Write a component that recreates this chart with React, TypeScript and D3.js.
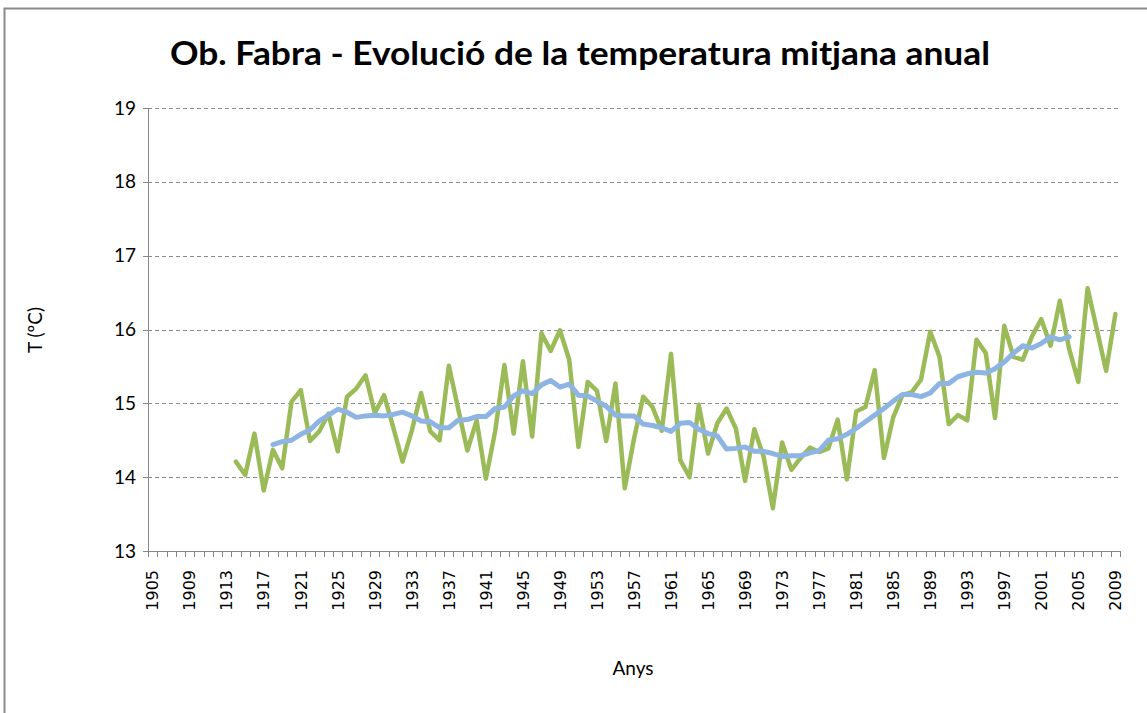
import { useMemo } from 'react';
import * as d3 from 'd3';

// categories: every year on the axis, 1905..2009
const YEARS: number[] = d3.range(1905, 2010);
const LABEL_YEARS: number[] = YEARS.filter((y) => (y - 1905) % 4 === 0);
const Y_TICKS = [13, 14, 15, 16, 17, 18, 19];

// annual mean temperature, 1914..2009
const ANNUAL_START = 1914;
const ANNUAL: number[] = [
  14.21, 14.03, 14.59, 13.82, 14.37, 14.12, 15.02, 15.18, 14.49, 14.62, // 1914-1923
  14.86, 14.35, 15.09, 15.2, 15.38, 14.87, 15.11, 14.67, 14.21, 14.63, // 1924-1933
  15.14, 14.62, 14.5, 15.51, 14.93, 14.36, 14.77, 13.98, 14.62, 15.52, // 1934-1943
  14.59, 15.57, 14.55, 15.95, 15.71, 15.99, 15.59, 14.41, 15.29, 15.17, // 1944-1953
  14.49, 15.27, 13.85, 14.52, 15.09, 14.95, 14.63, 15.67, 14.23, 14.0, // 1954-1963
  14.98, 14.32, 14.73, 14.93, 14.66, 13.95, 14.65, 14.28, 13.58, 14.47, // 1964-1973
  14.1, 14.26, 14.4, 14.34, 14.39, 14.78, 13.97, 14.89, 14.95, 15.45, // 1974-1983
  14.26, 14.81, 15.11, 15.15, 15.32, 15.97, 15.63, 14.72, 14.84, 14.77, // 1984-1993
  15.86, 15.68, 14.8, 16.05, 15.63, 15.59, 15.91, 16.14, 15.78, 16.39, // 1994-2003
  15.74, 15.29, 16.56, 16.0, 15.44, 16.21, // 2004-2009
];

// smoothed series, 1918..2004
const SMOOTH_START = 1918;
const SMOOTH: number[] = [
  14.44, 14.48, 14.5, 14.58, 14.64, 14.76, 14.84, 14.92, 14.88, 14.81, // 1918-1927
  14.83, 14.84, 14.83, 14.85, 14.88, 14.83, 14.76, 14.75, 14.67, 14.67, // 1928-1937
  14.77, 14.78, 14.82, 14.82, 14.93, 14.95, 15.1, 15.17, 15.13, 15.25, // 1938-1947
  15.31, 15.22, 15.26, 15.11, 15.1, 15.03, 14.96, 14.84, 14.83, 14.83, // 1948-1957
  14.72, 14.7, 14.67, 14.62, 14.73, 14.74, 14.65, 14.59, 14.56, 14.38, // 1958-1967
  14.39, 14.41, 14.35, 14.35, 14.32, 14.28, 14.29, 14.29, 14.33, 14.36, // 1968-1977
  14.5, 14.52, 14.58, 14.66, 14.75, 14.84, 14.93, 15.03, 15.12, 15.12, // 1978-1987
  15.09, 15.14, 15.27, 15.27, 15.36, 15.4, 15.42, 15.41, 15.47, 15.56, // 1988-1997
  15.68, 15.78, 15.75, 15.81, 15.9, 15.86, 15.9, // 1998-2004
];

const W = 1147;
const H = 713;
const plot = { left: 148, right: 1120, top: 108, bottom: 551 };

export default function App() {
  const x = useMemo(
    () => d3.scaleBand<number>().domain(YEARS).range([plot.left, plot.right]),
    []
  );
  const y = useMemo(
    () => d3.scaleLinear().domain([13, 19]).range([plot.bottom, plot.top]),
    []
  );
  const cx = (yr: number) => (x(yr) ?? 0) + x.bandwidth() / 2;

  const line = d3
    .line<[number, number]>()
    .x((d) => cx(d[0]))
    .y((d) => y(d[1]));

  const annualPts = ANNUAL.map((v, i) => [ANNUAL_START + i, v] as [number, number]);
  const smoothPts = SMOOTH.map((v, i) => [SMOOTH_START + i, v] as [number, number]);

  const axisColor = '#868686';

  return (
    <svg
      width={W}
      height={H}
      style={{ position: 'absolute', left: 0, top: 0, background: '#fff' }}
      fontFamily="Lato, 'Open Sans', sans-serif"
    >
      <rect x={0} y={0} width={W} height={H} fill="#fff" />
      {/* chart area frame (cropped at right/bottom) */}
      <rect x={4.5} y={8.5} width={W + 20} height={H + 20} fill="none" stroke="#8a8a8a" strokeWidth={2} />

      <text
        x={580}
        y={65}
        textAnchor="middle"
        fontSize={32}
        fontWeight={700}
        fill="#000"
        textLength={820}
        lengthAdjust="spacingAndGlyphs"
      >
        Ob. Fabra - Evolució de la temperatura mitjana anual
      </text>

      {/* gridlines */}
      {Y_TICKS.filter((t) => t !== 13).map((t) => (
        <line
          key={t}
          x1={plot.left}
          x2={plot.right}
          y1={Math.round(y(t)) + 0.5}
          y2={Math.round(y(t)) + 0.5}
          stroke="#8c8c8c"
          strokeDasharray="4,3"
          strokeWidth={1}
        />
      ))}

      {/* y axis */}
      <line x1={plot.left + 0.5} x2={plot.left + 0.5} y1={plot.top} y2={plot.bottom} stroke={axisColor} />
      {Y_TICKS.map((t) => (
        <g key={t}>
          <line
            x1={plot.left - 5}
            x2={plot.left}
            y1={Math.round(y(t)) + 0.5}
            y2={Math.round(y(t)) + 0.5}
            stroke={axisColor}
          />
          <text x={136} y={y(t)} dy="0.35em" textAnchor="end" fontSize={19} fill="#000">
            {t}
          </text>
        </g>
      ))}

      {/* x axis */}
      <line x1={plot.left} x2={plot.right} y1={plot.bottom + 0.5} y2={plot.bottom + 0.5} stroke={axisColor} />
      {YEARS.concat([2010]).map((yr) => {
        const px = Math.round(yr === 2010 ? plot.right : x(yr) ?? 0) + 0.5;
        return <line key={yr} x1={px} x2={px} y1={plot.bottom} y2={plot.bottom + 6} stroke={axisColor} />;
      })}
      {LABEL_YEARS.map((yr) => (
        <text
          key={yr}
          transform={`translate(${cx(yr)},570) rotate(-90)`}
          dy="0.36em"
          textAnchor="end"
          fontSize={16}
          fontFamily="'DejaVu Sans', Verdana, sans-serif"
          fill="#000"
        >
          {yr}
        </text>
      ))}

      <text x={633} y={675} textAnchor="middle" fontSize={19} fill="#000">
        Anys
      </text>
      <text transform="translate(42,330) rotate(-90)" textAnchor="middle" fontSize={19} fill="#000">
        T (ºC)
      </text>

      {/* series */}
      <path d={line(annualPts) ?? ''} fill="none" stroke="#9bbb59" strokeWidth={4.5} strokeLinejoin="round" strokeLinecap="round" />
      <path d={line(smoothPts) ?? ''} fill="none" stroke="#8db4e2" strokeWidth={5} strokeLinejoin="round" strokeLinecap="round" />
    </svg>
  );
}
